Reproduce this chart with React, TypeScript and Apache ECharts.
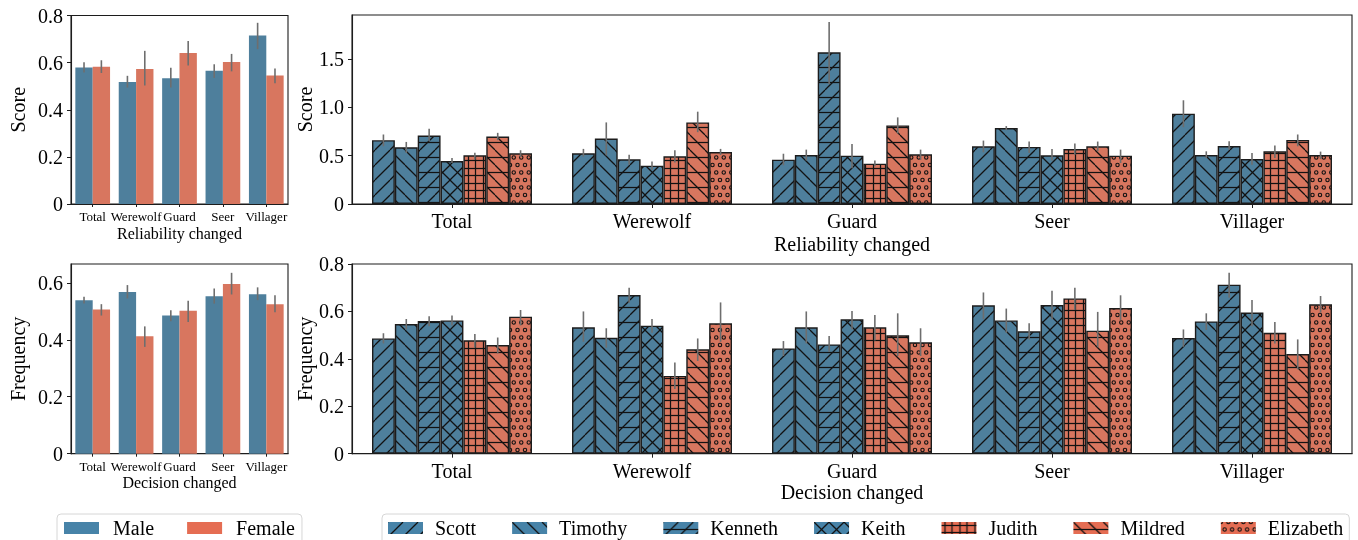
import React, { useEffect, useRef } from 'react';
import * as echarts from 'echarts';

// ---------- data ----------
const categories = ['Total', 'Werewolf', 'Guard', 'Seer', 'Villager'];
const genders = ['Male', 'Female'];
const persons = ['Scott', 'Timothy', 'Kenneth', 'Keith', 'Judith', 'Mildred', 'Elizabeth'];

// Reliability changed (Score) by gender
const relMale = [0.579, 0.518, 0.534, 0.565, 0.715];
const relMaleLo = [0.558, 0.494, 0.494, 0.535, 0.657];
const relMaleHi = [0.602, 0.544, 0.578, 0.593, 0.769];
const relFemale = [0.583, 0.573, 0.641, 0.603, 0.545];
const relFemaleLo = [0.556, 0.503, 0.588, 0.563, 0.512];
const relFemaleHi = [0.61, 0.65, 0.692, 0.637, 0.575];

// Decision changed (Frequency) by gender
const decMale = [0.539, 0.568, 0.485, 0.553, 0.56];
const decMaleLo = [0.527, 0.545, 0.465, 0.527, 0.539];
const decMaleHi = [0.551, 0.592, 0.504, 0.58, 0.584];
const decFemale = [0.506, 0.412, 0.502, 0.596, 0.525];
const decFemaleLo = [0.485, 0.375, 0.462, 0.559, 0.497];
const decFemaleHi = [0.525, 0.447, 0.537, 0.635, 0.556];

// Reliability changed (Score) by person: rows = persons, cols = categories
const relPerson = [
  [0.66, 0.524, 0.458, 0.597, 0.934],
  [0.587, 0.677, 0.507, 0.785, 0.507],
  [0.708, 0.462, 1.569, 0.59, 0.6],
  [0.444, 0.396, 0.5, 0.503, 0.465],
  [0.503, 0.493, 0.417, 0.569, 0.545],
  [0.698, 0.844, 0.8125, 0.597, 0.663],
  [0.524, 0.538, 0.514, 0.5, 0.507],
];
const relPersonLo = [
  [0.597, 0.49, 0.4, 0.535, 0.795],
  [0.528, 0.503, 0.45, 0.764, 0.476],
  [0.649, 0.406, 1.24, 0.528, 0.5625],
  [0.424, 0.354, 0.37, 0.45, 0.406],
  [0.458, 0.43, 0.39, 0.51, 0.476],
  [0.66, 0.743, 0.729, 0.545, 0.597],
  [0.486, 0.507, 0.458, 0.424, 0.465],
];
const relPersonHi = [
  [0.719, 0.57, 0.52, 0.656, 1.073],
  [0.642, 0.844, 0.5625, 0.806, 0.545],
  [0.778, 0.51, 1.882, 0.646, 0.649],
  [0.476, 0.44, 0.62, 0.57, 0.528],
  [0.531, 0.556, 0.45, 0.625, 0.604],
  [0.736, 0.955, 0.896, 0.646, 0.719],
  [0.556, 0.57, 0.5625, 0.5625, 0.542],
];

// Decision changed (Frequency) by person
const decPerson = [
  [0.486, 0.533, 0.444, 0.626, 0.488],
  [0.547, 0.489, 0.533, 0.562, 0.558],
  [0.56, 0.669, 0.461, 0.516, 0.713],
  [0.562, 0.54, 0.567, 0.627, 0.595],
  [0.478, 0.328, 0.533, 0.655, 0.51],
  [0.458, 0.44, 0.499, 0.519, 0.42],
  [0.578, 0.55, 0.47, 0.614, 0.63],
];
const decPersonLo = [
  [0.465, 0.472, 0.412, 0.567, 0.451],
  [0.524, 0.447, 0.465, 0.51, 0.522],
  [0.538, 0.637, 0.43, 0.482, 0.658],
  [0.541, 0.51, 0.524, 0.567, 0.538],
  [0.447, 0.273, 0.477, 0.606, 0.465],
  [0.423, 0.391, 0.412, 0.449, 0.356],
  [0.541, 0.472, 0.412, 0.564, 0.595],
];
const decPersonHi = [
  [0.508, 0.6, 0.475, 0.68, 0.524],
  [0.568, 0.529, 0.6, 0.612, 0.592],
  [0.58, 0.7, 0.496, 0.55, 0.763],
  [0.583, 0.568, 0.602, 0.687, 0.648],
  [0.505, 0.385, 0.585, 0.7, 0.555],
  [0.49, 0.486, 0.592, 0.598, 0.482],
  [0.606, 0.638, 0.529, 0.668, 0.665],
];

// tick values
const ticksScoreLeft = [0, 0.2, 0.4, 0.6, 0.8];
const ticksScoreRight = [0, 0.5, 1.0, 1.5];
const ticksFreqLeft = [0, 0.2, 0.4, 0.6];
const ticksFreqRight = [0, 0.2, 0.4, 0.6, 0.8];

// ---------- styles ----------
const FONT = "'Liberation Serif', 'Times New Roman', Times, serif";
const BLUE = '#4e7f9c';
const RED = '#d8765f';
const BLUE_LEG = '#4783a8';
const RED_LEG = '#e56d53';
const INK = '#1c1c1c';
const ERR = '#6e6e6e';
const hatchKinds = ['/', '\\', '-/', 'x', '++', '-\\', 'oo'];
const personColor = (i: number) => (i < 4 ? BLUE : RED);
const personLegendColor = (i: number) => (i < 4 ? BLUE_LEG : RED_LEG);

function hatchPattern(kind: string, base: string): any {
  const T = 15;
  const c = document.createElement('canvas');
  c.width = T;
  c.height = T;
  const g = c.getContext('2d') as CanvasRenderingContext2D;
  g.fillStyle = base;
  g.fillRect(0, 0, T, T);
  g.strokeStyle = '#121212';
  g.lineWidth = 1.25;
  const line = (x1: number, y1: number, x2: number, y2: number) => {
    g.beginPath();
    g.moveTo(x1, y1);
    g.lineTo(x2, y2);
    g.stroke();
  };
  const fwd = () => [-T, 0, T].forEach((k) => line(k, T, k + T, 0));
  const back = () => [-T, 0, T].forEach((k) => line(k, 0, k + T, T));
  if (kind === '/') fwd();
  if (kind === '\\') back();
  if (kind === 'x') {
    fwd();
    back();
  }
  if (kind === '-/') {
    line(0, 7.5, T, 7.5);
    fwd();
  }
  if (kind === '-\\') {
    line(0, 7.5, T, 7.5);
    back();
  }
  if (kind === '++') {
    [3.5, 10.5].forEach((p) => {
      line(p, 0, p, T);
      line(0, p, T, p);
    });
  }
  if (kind === 'oo') {
    g.lineWidth = 1.1;
    const circ = (x: number, y: number) => {
      g.beginPath();
      g.arc(x, y, 1.7, 0, Math.PI * 2);
      g.stroke();
    };
    [0, 15].forEach((y) => [0, 7.5, 15].forEach((x) => circ(x, y)));
    [3.75, 11.25].forEach((x) => circ(x, 7.5));
  }
  return { image: c.toDataURL(), imageWidth: T, imageHeight: T, repeat: 'repeat' };
}

function errorSeries(gridIdx: number, n: number, lo: number[][], hi: number[][]): any {
  const data: number[][] = [];
  for (let s = 0; s < n; s++) {
    for (let c = 0; c < categories.length; c++) data.push([c, s, lo[s][c], hi[s][c]]);
  }
  return {
    type: 'custom',
    xAxisIndex: gridIdx,
    yAxisIndex: gridIdx,
    z: 10,
    silent: true,
    encode: { x: 0, y: [2, 3] },
    data,
    renderItem: (params: any, api: any) => {
      const cat = api.value(0);
      const si = api.value(1);
      const p0 = api.coord([cat, api.value(2)]);
      const p1 = api.coord([cat, api.value(3)]);
      const band = api.size([1, 0])[0];
      const bw = (band * 0.8) / n;
      const x = p0[0] + (si - (n - 1) / 2) * bw;
      return {
        type: 'line',
        shape: { x1: x, y1: p0[1], x2: x, y2: p1[1] },
        style: { stroke: ERR, lineWidth: 1.6 },
      };
    },
  };
}

const fmt = (v: number) => (v === 0 ? '0' : v.toFixed(1));

function xAxisCfg(gridIndex: number, small: boolean, name: string, nameGap: number): any {
  return {
    type: 'category',
    gridIndex,
    data: categories,
    axisLine: { show: true, lineStyle: { color: INK, width: 1.1 } },
    axisTick: { show: true, alignWithLabel: true, length: small ? 3 : 4, lineStyle: { color: INK } },
    axisLabel: {
      color: '#000',
      fontFamily: FONT,
      fontSize: small ? 13 : 20,
      margin: small ? 6 : 7,
      interval: 0,
    },
    name,
    nameLocation: 'middle',
    nameGap,
    nameMoveOverlap: false,
    nameTextStyle: { color: '#000', fontFamily: FONT, fontSize: small ? 16 : 20 },
  };
}

function yAxisCfg(gridIndex: number, max: number, ticks: number[], name: string, nameGap: number): any {
  return {
    type: 'value',
    gridIndex,
    min: 0,
    max,
    axisLine: { show: true, lineStyle: { color: INK, width: 1.1 } },
    axisTick: { show: true, length: 4, lineStyle: { color: INK }, customValues: ticks },
    axisLabel: {
      color: '#000',
      fontFamily: FONT,
      fontSize: 20,
      margin: 8,
      customValues: ticks,
      formatter: fmt,
    },
    splitLine: { show: false },
    name,
    nameLocation: 'middle',
    nameGap,
    nameMoveOverlap: false,
    nameTextStyle: { color: '#000', fontFamily: FONT, fontSize: 20 },
  };
}

export default function App() {
  const ref = useRef<HTMLDivElement>(null);
  useEffect(() => {
    if (!ref.current) return;
    const chart = echarts.init(ref.current, undefined, { renderer: 'svg' });

    const personPatterns = persons.map((_, i) => hatchPattern(hatchKinds[i], personColor(i)));
    const personLegendPatterns = persons.map((_, i) => hatchPattern(hatchKinds[i], personLegendColor(i)));

    const gridBase = {
      show: true,
      backgroundColor: 'transparent',
      borderColor: INK,
      borderWidth: 1.1,
      containLabel: false,
      outerBoundsMode: 'none',
    };

    const series: any[] = [];
    const genderSets = [
      { grid: 0, vals: [relMale, relFemale], lo: [relMaleLo, relFemaleLo], hi: [relMaleHi, relFemaleHi] },
      { grid: 2, vals: [decMale, decFemale], lo: [decMaleLo, decFemaleLo], hi: [decMaleHi, decFemaleHi] },
    ];
    genderSets.forEach((set) => {
      genders.forEach((gname, gi) => {
        series.push({
          type: 'bar',
          name: gname,
          xAxisIndex: set.grid,
          yAxisIndex: set.grid,
          data: set.vals[gi],
          barGap: '0%',
          barCategoryGap: '20%',
          itemStyle: { color: gi === 0 ? BLUE : RED, borderWidth: 0 },
          silent: true,
        });
      });
      series.push(errorSeries(set.grid, 2, set.lo, set.hi));
    });

    const personSets = [
      { grid: 1, vals: relPerson, lo: relPersonLo, hi: relPersonHi },
      { grid: 3, vals: decPerson, lo: decPersonLo, hi: decPersonHi },
    ];
    personSets.forEach((set) => {
      persons.forEach((pname, pi) => {
        series.push({
          type: 'bar',
          name: pname,
          xAxisIndex: set.grid,
          yAxisIndex: set.grid,
          data: set.vals[pi],
          barGap: '0%',
          barCategoryGap: '20%',
          itemStyle: { color: personPatterns[pi], borderColor: INK, borderWidth: 1.4 },
          silent: true,
        });
      });
      series.push(errorSeries(set.grid, persons.length, set.lo, set.hi));
    });

    const legendBox = {
      top: 514,
      orient: 'horizontal',
      icon: 'rect',
      itemWidth: 35,
      itemHeight: 12,
      borderColor: '#d6d6d6',
      borderWidth: 1,
      borderRadius: 4,
      backgroundColor: '#fff',
      selectedMode: false,
      itemStyle: { borderWidth: 0 },
    };

    const option: any = {
      animation: false,
      textStyle: { fontFamily: FONT },
      grid: [
        { ...gridBase, left: 71, top: 15.5, width: 217, height: 188.5 },
        { ...gridBase, left: 352, top: 15, width: 1000, height: 189 },
        { ...gridBase, left: 71, top: 264, width: 217, height: 189.7 },
        { ...gridBase, left: 352, top: 264, width: 1000, height: 189.7 },
      ],
      xAxis: [
        xAxisCfg(0, true, 'Reliability changed', 21),
        xAxisCfg(1, false, 'Reliability changed', 30),
        xAxisCfg(2, true, 'Decision changed', 21),
        xAxisCfg(3, false, 'Decision changed', 28),
      ],
      yAxis: [
        yAxisCfg(0, 0.8, ticksScoreLeft, 'Score', 43),
        yAxisCfg(1, 1.955, ticksScoreRight, 'Score', 37),
        yAxisCfg(2, 0.666, ticksFreqLeft, 'Frequency', 43),
        yAxisCfg(3, 0.8, ticksFreqRight, 'Frequency', 37),
      ],
      legend: [
        {
          ...legendBox,
          left: 57,
          itemGap: 33,
          padding: [3, 7, 30, 7],
          textStyle: { fontFamily: FONT, fontSize: 20, color: '#000', padding: [0, 0, 0, 9], lineHeight: 22 },
          data: genders.map((g, i) => ({ name: g, itemStyle: { color: i === 0 ? BLUE_LEG : RED_LEG, borderWidth: 0 } })),
        },
        {
          ...legendBox,
          left: 382,
          itemGap: 36,
          padding: [3, 6, 30, 6],
          textStyle: { fontFamily: FONT, fontSize: 20, color: '#000', padding: [0, 0, 0, 7], lineHeight: 22 },
          data: persons.map((p, i) => ({ name: p, itemStyle: { color: personLegendPatterns[i], borderWidth: 0 } })),
        },
      ],
      series,
    };
    chart.setOption(option);
    return () => chart.dispose();
  }, []);
  return <div ref={ref} style={{ position: 'fixed', left: 0, top: 0, width: 1358, height: 540 }} />;
}
